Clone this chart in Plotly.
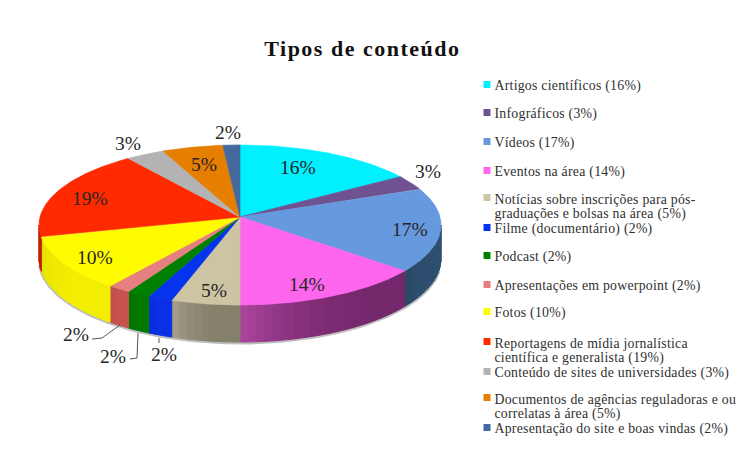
import numpy as np
import plotly.graph_objects as go

TITLE = "Tipos de conteúdo"
values = [16, 3, 17, 14, 5, 1.8, 1.7, 1.7, 10.8, 18.7, 3.4, 5.4, 1.5]
percent_labels = ["16%", "3%", "17%", "14%", "5%", "2%", "2%", "2%", "10%", "19%", "3%", "5%", "2%"]
legend_lines = [
    ["Artigos científicos (16%)"],
    ["Infográficos (3%)"],
    ["Vídeos (17%)"],
    ["Eventos na área (14%)"],
    ["Notícias sobre inscrições para pós-", "graduações e bolsas na área (5%)"],
    ["Filme (documentário) (2%)"],
    ["Podcast (2%)"],
    ["Apresentações em powerpoint (2%)"],
    ["Fotos (10%)"],
    ["Reportagens de mídia jornalística", "científica e generalista (19%)"],
    ["Conteúdo de sites de universidades (3%)"],
    ["Documentos de agências reguladoras e ou", "correlatas à área (5%)"],
    ["Apresentação do site e boas vindas (2%)"],
]
top_colors = ["#00F0FF", "#6F5290", "#6699DD", "#FF66EE", "#CCC4A2", "#0533EE", "#008000",
              "#E67F7F", "#FFFB00", "#FF2A00", "#B3B3B3", "#E67E00", "#44699F"]
side_start = ["#00A0AA", "#4A3660", "#2E5070", "#74286C", "#85806A", "#0A30E6", "#007A00",
              "#C8544F", "#F4EE00", "#C02000", "#777777", "#A05800", "#2E4D70"]
side_end = ["#00A0AA", "#4A3660", "#2C4A68", "#AE459F", "#A6A28B", "#0A2CDC", "#006E00",
            "#BC4E4A", "#E4E000", "#C02000", "#777777", "#A05800", "#2E4D70"]

# pixel layout of the drawing (axes run in page pixels)
CX, CY, RX, RY, PERSP, DEPTH = 240, 217, 200, 79.2, 0.1, 33.3
TITLE_POS = (362, 48)
label_pos = [(298, 167), (428, 171), (410, 229), (307, 284), (214, 290), (164, 354), (113, 356),
             (76, 334), (95, 257), (90, 198), (128, 143), (204, 164), (228, 132)]
legend_y = [[86], [114], [143], [172], [199, 214], [229], [257], [286], [313], [343, 358],
            [373], [399, 414], [429]]
leaders = [[(92, 339), (102, 338), (120, 325)], [(130, 359), (137, 358), (138, 333)],
           [(159, 338), (159, 343)]]


def project(deg, drop=0.0):
    t = np.radians(deg)
    u, v = np.sin(t), np.cos(t)
    d = 1 + PERSP * v
    return CX + RX * u / d, CY - RY * v / d + DEPTH * drop / d


def rgb(h):
    return np.array([int(h[i:i + 2], 16) for i in (1, 3, 5)], float)


def mix(a, b, f):
    c = rgb(a) * (1 - f) + rgb(b) * f
    return "rgb(%d,%d,%d)" % tuple(c)


def poly(fig, xs, ys, color, w=0.7):
    fig.add_trace(go.Scatter(x=list(xs), y=list(ys), mode="lines", fill="toself", fillcolor=color,
                             line=dict(color=color, width=w), hoverinfo="skip", showlegend=False))


fig = go.Figure()
edges = np.concatenate([[0], np.cumsum(values)]) / sum(values) * 360
VIS0 = np.degrees(np.arccos(-PERSP))
VIS1 = 360 - VIS0

# soft shadow under the rim
sa = np.linspace(VIS0 + 8, VIS1 - 4, 120)
sx, sy = project(sa, 1.0)
fig.add_trace(go.Scatter(x=sx, y=sy + 1, mode="lines", line=dict(color="rgba(110,110,110,0.45)", width=3),
                         hoverinfo="skip", showlegend=False))

# rim
for i in range(len(values)):
    a0, a1 = max(edges[i], VIS0), min(edges[i + 1], VIS1)
    if a1 <= a0:
        continue
    n = max(1, int((a1 - a0) / 2))
    steps = np.linspace(a0, a1, n + 1)
    for j in range(n):
        arc = np.linspace(steps[j], steps[j + 1], 4)
        x0, y0 = project(arc, 0)
        x1, y1 = project(arc[::-1], 1)
        poly(fig, np.r_[x0, x1, x0[0]], np.r_[y0, y1, y0[0]],
             mix(side_start[i], side_end[i], ((j + 0.5) / n) ** 3), 1)

# top face
for i in range(len(values)):
    arc = np.linspace(edges[i], edges[i + 1], max(3, int(edges[i + 1] - edges[i]) * 2))
    x, y = project(arc)
    poly(fig, np.r_[CX, x, CX], np.r_[CY, y, CY], top_colors[i])

# leader lines
for pts in leaders:
    fig.add_trace(go.Scatter(x=[p[0] for p in pts], y=[p[1] for p in pts], mode="lines",
                             line=dict(color="#555555", width=1), hoverinfo="skip", showlegend=False))

# legend swatches
fig.add_trace(go.Scatter(x=[487] * len(values), y=[ys[0] - 1.5 for ys in legend_y], mode="markers",
                         marker=dict(symbol="square", size=7, color=top_colors, line=dict(width=0)),
                         hoverinfo="skip", showlegend=False))

SERIF = "Liberation Serif"
notes = [dict(x=TITLE_POS[0], y=TITLE_POS[1], text="<b>%s</b>" % TITLE, showarrow=False,
              font=dict(family=SERIF, size=22, color="#111111"), xanchor="center", yanchor="middle")]
for lab, (x, y) in zip(percent_labels, label_pos):
    notes.append(dict(x=x, y=y, text=lab, showarrow=False,
                      font=dict(family=SERIF, size=19.5, color="#262626"),
                      xanchor="center", yanchor="middle"))
for lines, ys in zip(legend_lines, legend_y):
    for t, y in zip(lines, ys):
        notes.append(dict(x=492.5, y=y, text=t, showarrow=False,
                          font=dict(family=SERIF, size=13.8, color="#303030"),
                          xanchor="left", yanchor="middle"))

fig.update_layout(width=748, height=470, margin=dict(l=0, r=0, t=0, b=0), autosize=False,
                  paper_bgcolor="white", plot_bgcolor="white", showlegend=False,
                  xaxis=dict(range=[0, 748], visible=False, fixedrange=True),
                  yaxis=dict(range=[470, 0], visible=False, fixedrange=True),
                  annotations=notes)
fig.write_html("out.html", config={"displayModeBar": False},
               post_script="document.body.style.margin='0';document.documentElement.style.overflow='hidden';"
                           "document.querySelectorAll('.annotation-text').forEach(function(t,i){"
                           "if(i==0){t.style.letterSpacing='1.5px';}"
                           "else if(t.textContent.length>5){t.style.letterSpacing='0.25px';"
                           "var r=t.getBoundingClientRect();"
                           "t.setAttribute('x',parseFloat(t.getAttribute('x'))+(494.5-r.left));"
                           "t.querySelectorAll('tspan').forEach(function(s){if(s.hasAttribute('x')){"
                           "s.setAttribute('x',t.getAttribute('x'));}});}});")
